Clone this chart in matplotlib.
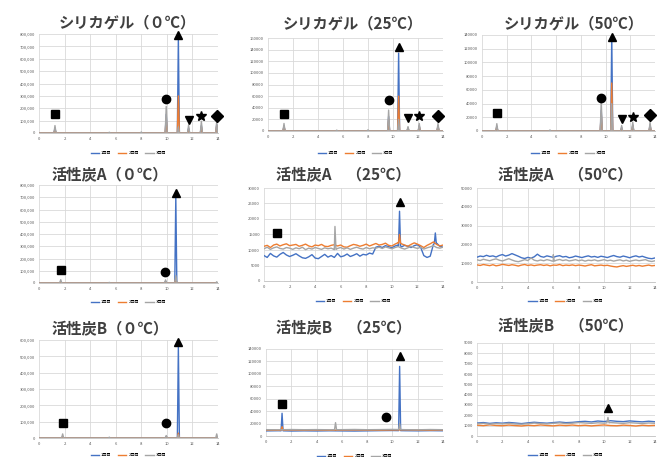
import numpy as np
import matplotlib.pyplot as plt

plt.rcParams['font.family'] = ['Noto Sans CJK JP', 'DejaVu Sans']

# --- データ ---
series_names = ['1回目', '2回目', '3回目']
series_colors = ['#4472C4', '#ED7D31', '#A5A5A5']

titles = ['シリカゲル（０℃）', 'シリカゲル（25℃）', 'シリカゲル（50℃）',
          '活性炭A（０℃）', '活性炭A　（25℃）', '活性炭A　（50℃）',
          '活性炭B（０℃）', '活性炭B　（25℃）', '活性炭B　（50℃）']

x_ticks = [0, 2, 4, 6, 8, 10, 12, 14]
y_top = [800000, 160000, 140000, 800000, 30000, 50000, 600000, 140000, 9000]
y_step = [100000, 20000, 20000, 100000, 5000, 10000, 100000, 20000, 1000]

x_flat = [0, 14]
y_flat = [0, 0]
x_q = np.arange(0, 14.01, 0.25)   # 57点
x_h = np.arange(0, 14.01, 0.5)    # 29点
x_1 = np.arange(0, 14.01, 1.0)    # 15点

# 活性炭A 25℃ ベースライン
a25_blue = [8200, 7600, 8900, 8100, 7700, 8600, 9200, 8400, 7900, 8300,
            8800, 8100, 7500, 7300, 7800, 8500, 7400, 7200, 7900, 8600,
            7700, 8200, 7600, 8900, 7800, 8100, 8700, 7900, 8300, 8800,
            8000, 8600, 8400, 9000, 8700, 10900, 11200, 10800, 11400, 11100,
            10700, 11300, 11600, 11000, 11500, 11200, 10800, 11400, 11700, 10900,
            8200, 7600, 8000, 11800, 12200, 11200, 10900]
a25_orange = [11200, 11500, 10800, 11600, 11900, 11300, 11700, 12000, 11400, 11600,
              11800, 11200, 11500, 11900, 11300, 11000, 11600, 11400, 11800, 11200,
              11100, 11500, 11700, 11300, 11600, 11000, 10900, 11400, 11800, 11600,
              11200, 11500, 11900, 11300, 11700, 12100, 11600, 11800, 12200, 11500,
              11300, 11900, 12400, 12000, 11600, 11200, 11800, 12300, 11900, 11400,
              10800, 11500, 12000, 12600, 11800, 11300, 11600]
a25_gray = [10400, 10900, 10200, 10700, 11000, 10500, 10300, 10800, 10600, 10200,
            10700, 10400, 10900, 10100, 10600, 10300, 10800, 10500, 10200, 10700,
            10400, 10600, 10100, 10500, 10800, 10300, 10700, 10200, 10600, 10900,
            10500, 10300, 10800, 10400, 10700, 10600, 10900, 10500, 11000, 10700,
            10400, 10800, 11100, 10600, 10300, 10700, 11200, 10800, 10500, 10900,
            10300, 10700, 11000, 11400, 10800, 10600, 10900]

# 活性炭A 50℃ ベースライン
a50_blue = [13200, 13800, 13500, 14200, 13600, 13900, 13300, 14100, 14600, 13800,
            14300, 15100, 14400, 13700, 12900, 12500, 13100, 12700, 13400, 14800,
            13600, 13200, 13900, 13500, 13100, 13700, 14000, 13300, 13600, 12900,
            13200, 13800, 13400, 13000, 13500, 13900, 13300, 13600, 13100, 13700,
            13400, 13000, 13600, 14100, 13500, 13200, 13800, 13400, 12900, 13500,
            13900, 13300, 13700, 13100, 12600, 12400, 12800]
a50_orange = [9100, 8800, 9300, 9000, 8700, 9200, 8600, 8900, 9400, 9100,
              8800, 9200, 8900, 8500, 9000, 9300, 8800, 9100, 8700, 9000,
              9200, 8800, 9100, 8600, 9000, 8900, 9300, 8700, 9000, 8800,
              9100, 8700, 9000, 8800, 8500, 8900, 9200, 8600, 8800, 9000,
              8700, 8900, 8500, 8200, 8000, 8400, 8700, 8300, 8600, 8900,
              8500, 8800, 8400, 8700, 9000, 8600, 8800]
a50_gray = [11800, 11400, 12100, 11700, 11300, 11900, 12300, 11600, 11200, 11800,
            12400, 11700, 11100, 10800, 11300, 11900, 11400, 12800, 11600, 11200,
            11700, 11300, 11900, 11500, 11100, 11600, 12000, 11400, 11800, 11200,
            11500, 11900, 11300, 11700, 11100, 11600, 11400, 11800, 11200, 11500,
            11900, 11300, 11600, 11100, 11500, 11800, 11200, 11600, 11000, 11400,
            11700, 11300, 11600, 11900, 11200, 10900, 11300]

# 活性炭B 25℃ ベースライン
b25_blue = [8200, 8500, 8000, 8300, 8100, 8400, 8200, 8000, 8300, 8600, 8800, 8500, 8300, 8600, 8400]
b25_orange = [9600, 9400, 9800, 9500, 9700, 9300, 9600, 9800, 9500, 9400, 9700, 9900, 9600, 9400, 9700]
b25_gray = [10200, 10000, 10400, 10100, 10300, 10000, 10200, 10500, 10100, 10300, 10600, 10200, 10000, 10400, 10100]

# 活性炭B 50℃ ベースライン
b50_blue = [1250, 1300, 1220, 1280, 1240, 1310, 1260, 1200, 1270, 1330,
            1280, 1240, 1300, 1350, 1290, 1320, 1380, 1420, 1360, 1450,
            1400, 1480, 1420, 1390, 1460, 1410, 1370, 1430, 1380]
b50_orange = [1050, 1000, 1080, 1020, 990, 1060, 1010, 970, 1040, 1000,
              1070, 1020, 980, 1050, 1010, 1060, 1000, 1040, 980, 1030,
              1070, 1010, 990, 1050, 1020, 970, 1040, 1000, 1030]
b50_gray = [1180, 1220, 1150, 1200, 1170, 1230, 1160, 1140, 1190, 1250,
            1210, 1170, 1230, 1270, 1200, 1240, 1300, 1260, 1220, 1280,
            1240, 1300, 1260, 1220, 1290, 1250, 1210, 1260, 1230]

# ピーク (保持時間, 高さ)  系列順: 青, 橙, 灰
peaks = [
    [[(1.25, 40000), (9.95, 150000), (10.9, 770000), (11.7, 40000), (12.7, 60000), (13.9, 70000)],
     [(1.25, 30000), (9.95, 120000), (10.9, 300000), (11.7, 30000), (12.7, 50000), (13.9, 60000)],
     [(1.25, 60000), (5.5, 6000), (8.0, 8000), (9.95, 215000), (10.9, 50000), (11.7, 65000), (12.7, 95000), (13.9, 95000)]],
    [[(1.28, 9000), (9.65, 25000), (10.45, 134000), (11.2, 5000), (12.1, 9000), (13.6, 9000)],
     [(1.28, 8000), (9.65, 20000), (10.45, 60000), (11.2, 4000), (12.1, 8000), (13.6, 8000)],
     [(1.28, 13000), (5.5, 1500), (8.0, 2000), (9.65, 36000), (10.45, 20000), (11.2, 7500), (12.1, 13000), (13.6, 13000)]],
    [[(1.2, 7000), (9.65, 30000), (10.5, 140000), (11.3, 5000), (12.2, 9000), (13.6, 9000)],
     [(1.2, 6000), (9.65, 25000), (10.5, 70000), (11.3, 4000), (12.2, 8000), (13.6, 8000)],
     [(1.2, 10700), (5.5, 1500), (9.65, 45000), (10.5, 40000), (11.3, 8000), (12.2, 13000), (13.6, 13000)]],
    [[(1.7, 10000), (9.9, 15000), (10.7, 705000)],
     [(1.7, 8000), (9.9, 10000), (10.7, 40000)],
     [(1.7, 27000), (5.5, 5000), (9.9, 25000), (10.7, 60000), (13.9, 10000)]],
    [[(10.6, 22500), (13.4, 15500)],
     [(10.6, 15000)],
     [(5.55, 17600)]],
    [[], [], [(6.0, 14500)]],
    [[(1.85, 10000), (9.95, 10000), (10.9, 560000)],
     [(1.85, 8000), (9.95, 8000), (10.9, 30000)],
     [(1.85, 25000), (5.5, 5000), (9.95, 15000), (10.9, 20000), (13.9, 25000)]],
    [[(1.27, 36600), (10.57, 112000)],
     [(1.27, 15000)],
     [(5.5, 21500), (10.57, 20000)]],
    [[], [], [(10.3, 1800)]],
]

baselines = [
    [(x_flat, y_flat)] * 3,
    [(x_flat, y_flat)] * 3,
    [(x_flat, y_flat)] * 3,
    [(x_flat, y_flat)] * 3,
    [(x_q, a25_blue), (x_q, a25_orange), (x_q, a25_gray)],
    [(x_q, a50_blue), (x_q, a50_orange), (x_q, a50_gray)],
    [(x_flat, y_flat)] * 3,
    [(x_1, b25_blue), (x_1, b25_orange), (x_1, b25_gray)],
    [(x_h, b50_blue), (x_h, b50_orange), (x_h, b50_gray)],
]

# マーカー (記号, 保持時間, 高さ)
marks = [
    [('s', 1.25, 150000), ('o', 9.95, 278000), ('^', 10.9, 790000), ('v', 11.7, 108000), ('*', 12.7, 135000), ('D', 13.9, 140000)],
    [('s', 1.28, 29000), ('o', 9.65, 53000), ('^', 10.45, 145000), ('v', 11.2, 22000), ('*', 12.1, 26000), ('D', 13.6, 25000)],
    [('s', 1.2, 26000), ('o', 9.65, 48000), ('^', 10.5, 137000), ('v', 11.3, 18000), ('*', 12.2, 21000), ('D', 13.6, 23000)],
    [('s', 1.7, 108000), ('o', 9.87, 87000), ('^', 10.7, 737000)],
    [('s', 1.0, 15600), ('^', 10.6, 25600)],
    [],
    [('s', 1.85, 94000), ('o', 9.95, 94000), ('^', 10.9, 590000)],
    [('s', 1.27, 51000), ('o', 9.5, 31000), ('^', 10.57, 128000)],
    [('^', 10.3, 2750)],
]

# --- レイアウト (ピクセル: 左, 上, 右, 下) ---
W, H = 668, 457
rects = [(39, 34, 218, 133), (268, 38, 443, 131), (482, 35, 655, 131),
         (39, 185, 218, 283), (264, 188, 443, 281), (477, 188, 655, 282),
         (39, 340, 218, 438), (266, 349, 443, 436), (477, 343, 655, 436)]
title_pos = [(127, 22), (353, 23), (574, 23), (110, 175), (343, 175), (565, 175),
             (110, 329), (344, 328), (566, 326)]
legend_y = [153, 153, 153, 302, 301, 301, 455, 456, 455]


def spike_line(bx, by, spikes, w=0.08):
    xs = list(bx)
    ys = list(by)
    for c, h in spikes:
        b = float(np.interp(c, bx, by))
        xs += [c - w, c, c + w]
        ys += [b, h, b]
    order = np.argsort(xs, kind='stable')
    return np.array(xs)[order], np.array(ys)[order]


fig = plt.figure(figsize=(W / 100, H / 100), dpi=100)

for i in range(9):
    l, t, r, b = rects[i]
    ax = fig.add_axes([l / W, 1 - b / H, (r - l) / W, (b - t) / H])
    for k in range(3):
        bx, by = baselines[i][k]
        xs, ys = spike_line(bx, by, peaks[i][k])
        ax.plot(xs, ys, color=series_colors[k], lw=1.0, label=series_names[k])
    for m, mx, my in marks[i]:
        ax.plot(mx, my, marker=m, color='black', ms=7.5 if m == '*' else 6,
                linestyle='none', clip_on=False, zorder=5)

    ax.set_xlim(0, 14)
    ax.set_ylim(0, y_top[i])
    ax.set_xticks(x_ticks)
    yt = np.arange(0, y_top[i] + 1, y_step[i])
    ax.set_yticks(yt)
    if y_top[i] >= 600000:
        ax.set_yticklabels([f'{v:,}' for v in yt])
    else:
        ax.set_yticklabels([f'{v}' for v in yt])
    ax.tick_params(length=0, labelsize=3, colors='#595959', pad=3)
    ax.grid(True, color='#d9d9d9', lw=0.6)
    ax.set_axisbelow(True)
    for s in ['top', 'right', 'left']:
        ax.spines[s].set_visible(False)
    ax.spines['bottom'].set_color('#bfbfbf')
    ax.spines['bottom'].set_linewidth(0.6)

    tx, ty = title_pos[i]
    fig.text(tx / W, 1 - ty / H, titles[i], ha='center', va='center',
             fontsize=11, fontweight='bold', color='#404040')

    ax.legend(loc='center', bbox_to_anchor=(((l + r) / 2) / W, 1 - legend_y[i] / H),
              bbox_transform=fig.transFigure, ncol=3, fontsize=3, frameon=False,
              handlelength=2, columnspacing=1.5, handletextpad=0.5)

fig.savefig('out.png', dpi=100, facecolor='white')
